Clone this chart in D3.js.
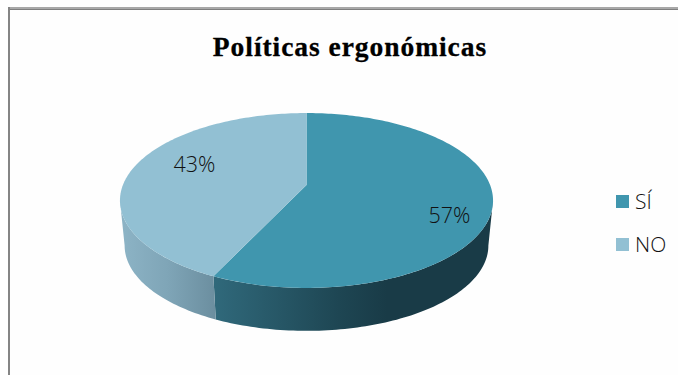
<!DOCTYPE html>
<html>
<head>
<meta charset="utf-8">
<script src="https://cdn.jsdelivr.net/npm/d3@7"></script>
<style>
html,body{margin:0;padding:0;background:#fff;}
svg{display:block;}
</style>
</head>
<body>
<svg id="chart" width="678" height="375"></svg>
<script>
const categories = ["SÍ", "NO"];
const values = [57, 43];
const valueLabels = ["57%", "43%"];
const title = "Políticas ergonómicas";
const topColors = ["#4096ae", "#92c0d3"];
const wallStops = [
  [["0", "#30697b"], ["0.45", "#1e4653"], ["0.62", "#193b47"], ["1", "#193b47"]],
  [["0", "#8db4c6"], ["0.5", "#7fa5b7"], ["1", "#6b8e9f"]]
];

const svg = d3.select("#chart");
const defs = svg.append("defs");

// Page and frame
svg.append("rect").attr("width", 678).attr("height", 375).attr("fill", "#fff");
svg.append("rect").attr("x", 9).attr("y", 9).attr("width", 669).attr("height", 366).attr("fill", "#fefefe");
svg.append("rect").attr("x", 8).attr("y", 7).attr("width", 670).attr("height", 1.5).attr("fill", "#a8a8a8");
svg.append("rect").attr("x", 8).attr("y", 8.5).attr("width", 670).attr("height", 1.5).attr("fill", "#808080");
svg.append("rect").attr("x", 8).attr("y", 7).attr("width", 2).attr("height", 368).attr("fill", "#858585");

svg.append("text")
  .attr("x", 350).attr("y", 56)
  .attr("text-anchor", "middle")
  .attr("font-family", "'Liberation Serif', serif")
  .attr("font-weight", "bold")
  .attr("font-size", 27.5)
  .attr("letter-spacing", 0.95)
  .attr("stroke", "#000")
  .attr("stroke-width", 0.3)
  .attr("fill", "#000")
  .text(title);

// Tilted disc: a circle seen in perspective, so its hub sits above the rim ellipse centre
const cx = 306.5, cy = 185, halfW = 183.6, halfH = 84.7, persp = 0.177;
const rimU = d3.scaleLinear().domain([-1, 1]).range([-halfW, halfW]);
const rimV = d3.scaleLinear().domain([-1, 1]).range([-halfH, halfH]);
const depth = 45.5, shrink = 0.975;

function project(theta, lower) {
  const u = Math.sin(theta), v = -Math.cos(theta), w = 1 - persp * v;
  const s = lower ? shrink : 1, d = lower ? depth : 0;
  return [cx + s * rimU(u) / w, cy + d + s * rimV(v) / w];
}
function arcPoints(a0, a1, lower) {
  const n = Math.max(2, Math.ceil(Math.abs(a1 - a0) / 0.02));
  return d3.range(n + 1).map(i => project(a0 + (a1 - a0) * i / n, lower));
}

const line = d3.line().curve(d3.curveLinear);
const slices = d3.pie().sort(null).value(d => d)(values);

// Part of the rim that faces the viewer, between the two widest points of the disc
const frontStart = Math.PI - Math.acos(persp);
const frontEnd = Math.PI + Math.acos(persp);

slices.forEach((s, i) => {
  const a0 = Math.max(s.startAngle, frontStart), a1 = Math.min(s.endAngle, frontEnd);
  if (a1 <= a0) return;
  const top = arcPoints(a0, a1, false), low = arcPoints(a0, a1, true);
  const xs = top.concat(low).map(p => p[0]);
  const id = "wall" + i;
  const g = defs.append("linearGradient").attr("id", id)
    .attr("gradientUnits", "userSpaceOnUse")
    .attr("x1", d3.min(xs)).attr("x2", d3.max(xs))
    .attr("y1", 0).attr("y2", 0);
  wallStops[i].forEach(st => g.append("stop").attr("offset", st[0]).attr("stop-color", st[1]));
  svg.append("path")
    .attr("d", line(top.concat(low.reverse())) + "Z")
    .attr("fill", `url(#${id})`);
});

// Top faces
slices.forEach((s, i) => {
  const pts = [[cx, cy]].concat(arcPoints(s.startAngle, s.endAngle, false));
  svg.append("path")
    .attr("d", line(pts) + "Z")
    .attr("fill", topColors[i]);
});

// Value labels
const labelPos = [[449.5, 223], [194.5, 172]];
valueLabels.forEach((t, i) => {
  svg.append("text")
    .attr("x", labelPos[i][0]).attr("y", labelPos[i][1])
    .attr("text-anchor", "middle")
    .attr("font-family", "'Open Sans', sans-serif")
    .attr("font-weight", 300)
    .attr("font-size", 21.5)
    .attr("fill", "#111")
    .text(t);
});

// Legend
const legendY = d3.scalePoint().domain(categories).range([195, 238]);
categories.forEach((c, i) => {
  svg.append("rect")
    .attr("x", 616).attr("y", legendY(c))
    .attr("width", 13).attr("height", 13)
    .attr("fill", topColors[i]);
  svg.append("text")
    .attr("x", 635).attr("y", legendY(c) + 14)
    .attr("font-family", "'Open Sans', sans-serif")
    .attr("font-weight", 300)
    .attr("font-size", 21)
    .attr("fill", "#111")
    .text(c);
});
</script>
</body>
</html>
